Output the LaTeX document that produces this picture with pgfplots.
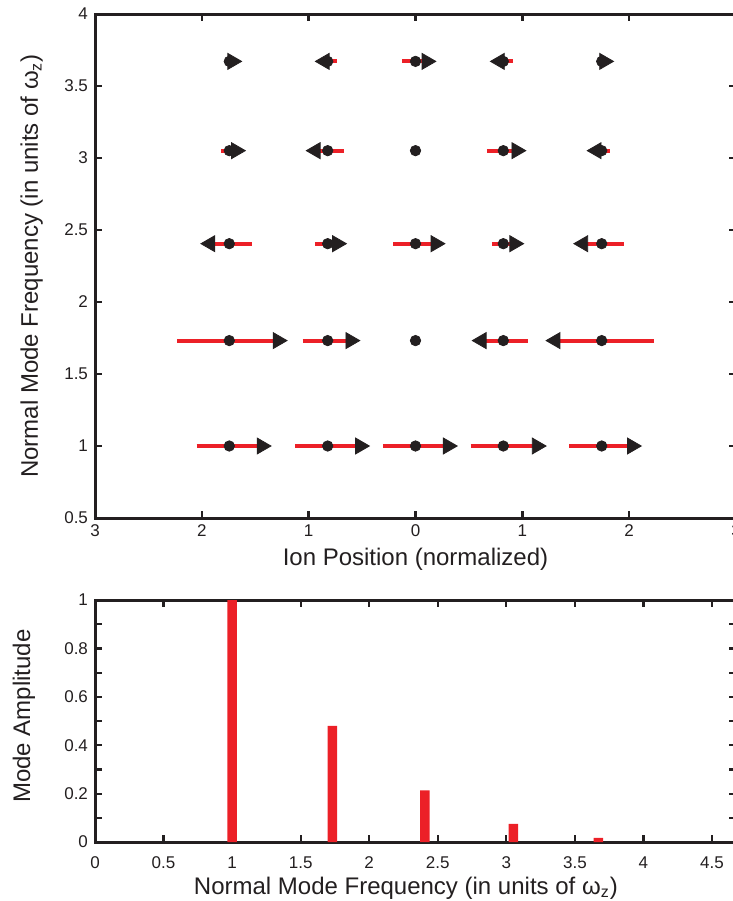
\documentclass[border=0pt]{standalone}
\usepackage{fontspec}
\setmainfont{Liberation Sans}
\usepackage{pgfplots}
\pgfplotsset{compat=1.18}
\usepackage{pgfplotstable}
\definecolor{modered}{RGB}{236,32,39}
\definecolor{axgray}{RGB}{35,31,32}

% ion position, mode frequency, half length of red bar, signed arrow tip offset
\pgfplotstableread{
pos freq half tip
-1.743 1.000 0.305 0.39
-0.822 1.000 0.305 0.39
0.000 1.000 0.305 0.39
0.822 1.000 0.305 0.40
1.743 1.000 0.305 0.37
-1.743 1.732 0.485 0.54
-0.822 1.732 0.234 0.30
0.000 1.732 0.000 0.00
0.822 1.732 0.234 -0.29
1.743 1.732 0.486 -0.52
-1.743 2.405 0.210 -0.265
-0.822 2.405 0.120 0.175
0.000 2.405 0.210 0.275
0.822 2.405 0.106 0.19
1.743 2.405 0.205 -0.26
-1.743 3.051 0.075 0.15
-0.822 3.051 0.156 -0.20
0.000 3.051 0.000 0.00
0.822 3.051 0.155 0.21
1.743 3.051 0.080 -0.135
-1.743 3.671 0.030 0.115
-0.822 3.671 0.090 -0.115
0.000 3.671 0.125 0.19
0.822 3.671 0.087 -0.12
1.743 3.671 0.030 0.11
}\modes

\pgfplotstableread{
f amp
1.000 1.000
1.732 0.480
2.405 0.213
3.051 0.075
3.671 0.017
}\spectrum

\begin{document}
\begin{tikzpicture}
\pgfplotsset{
  every axis/.append style={
    scale only axis,
    tick align=inside,
    major tick length=3.5pt,
    minor tick length=3.5pt,
    tick label style={font=\fontsize{8.5}{10}\selectfont, text=axgray},
    label style={font=\fontsize{12}{14}\selectfont, text=axgray},
    /pgf/number format/assume math mode=true,
  },
}
\begin{axis}[
  at={(47.5pt,-7pt)}, anchor=north west,
  width=320.5pt, height=252pt,
  xmin=-3, xmax=3, ymin=0.5, ymax=4,
  xtick={-3,-2,-1,0,1,2,3},
  xticklabels={3,2,1,0,1,2,3},
  ytick={0.5,1,1.5,2,2.5,3,3.5,4},
  axis line style={draw=axgray, line width=1.5pt},
  tick style={draw=axgray, line width=1.2pt},
  xlabel={Ion Position (normalized)},
  ylabel={Normal Mode Frequency (in units of ω\textsubscript{z})},
  xlabel style={at={(axis description cs:0.5,-0.0946)}, anchor=base},
  ylabel style={at={(axis description cs:-0.089,0.5)}, anchor=base},
]
\addplot[modered, line width=2pt, quiver={u=2*\thisrow{half}, v=0}]
  table[x expr=\thisrow{pos}-\thisrow{half}, y=freq] {\modes};
\addplot[only marks, mark=*, mark size=2.6pt, color=axgray]
  table[x=pos, y=freq] {\modes};
\addplot[only marks, mark=triangle*, mark size=4.6pt, color=axgray,
  mark options={rotate=-90},
  restrict expr to domain={\thisrow{tip}}{0.001:10}]
  table[x expr=\thisrow{pos}+\thisrow{tip}-0.086, y=freq] {\modes};
\addplot[only marks, mark=triangle*, mark size=4.6pt, color=axgray,
  mark options={rotate=90},
  restrict expr to domain={\thisrow{tip}}{-10:-0.001}]
  table[x expr=\thisrow{pos}+\thisrow{tip}+0.086, y=freq] {\modes};
\end{axis}

\begin{axis}[
  at={(47.5pt,-300pt)}, anchor=north west,
  width=320.5pt, height=121pt,
  xmin=0, xmax=4.675, ymin=0, ymax=1,
  xtick={0,0.5,1,1.5,2,2.5,3,3.5,4,4.5},
  ytick={0,0.2,0.4,0.6,0.8,1},
  minor y tick num=1,
  axis line style={draw=axgray, line width=1.5pt},
  tick style={draw=axgray, line width=1.1pt},
  xticklabel style={yshift=-4pt},
  xlabel={Normal Mode Frequency (in units of ω\textsubscript{z})},
  ylabel={Mode Amplitude},
  xlabel style={at={(axis description cs:0.485,-0.215)}, anchor=base},
  ylabel style={at={(axis description cs:-0.1014,0.52)}, anchor=base},
]
\addplot[ybar, bar width=4.75pt, fill=modered, draw=none]
  table[x=f, y=amp] {\spectrum};
\end{axis}
\pgfresetboundingbox
\path (0pt,0pt) rectangle (366.5pt,-450.5pt);
\end{tikzpicture}
\end{document}
